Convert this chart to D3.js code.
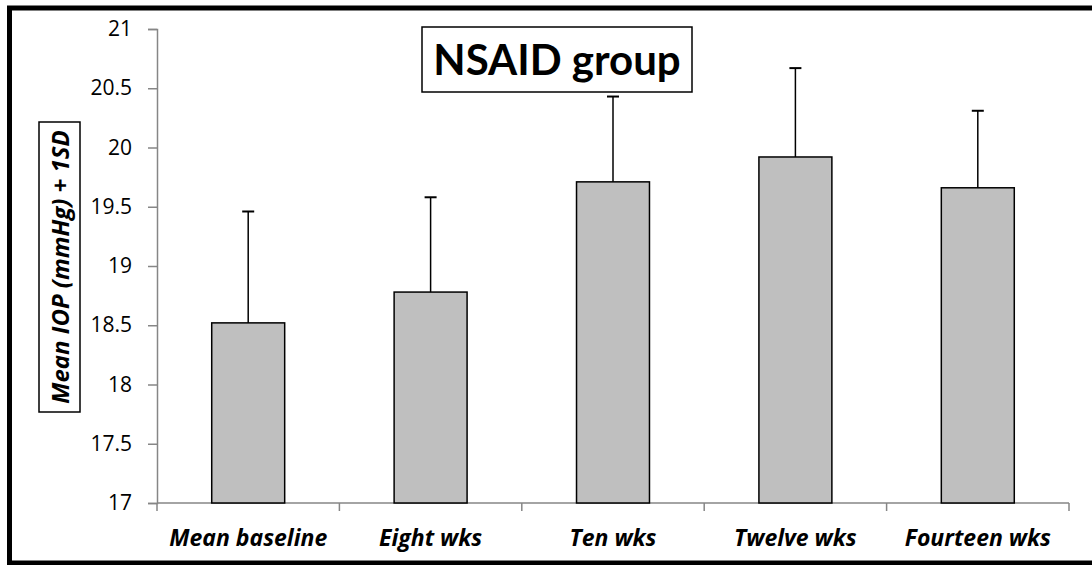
<!DOCTYPE html>
<html>
<head>
<meta charset="utf-8">
<script src="https://d3js.org/d3.v7.min.js"></script>
<style>
  body { margin: 0; background: #fff; }
  svg { display: block; }
</style>
</head>
<body>
<svg id="chart" width="1092" height="565"></svg>
<script>
// values
const categories = ["Mean baseline", "Eight wks", "Ten wks", "Twelve wks", "Fourteen wks"];
const meanIop = [18.52, 18.78, 19.71, 19.92, 19.66];
const sdIop = [0.94, 0.80, 0.72, 0.75, 0.65];
const yTicks = [17, 17.5, 18, 18.5, 19, 19.5, 20, 20.5, 21];

var svg = d3.select("#chart");
var font = "'Open Sans', Lato, sans-serif";

var data = categories.map(function(c, i) {
    return { title: c, value: meanIop[i], sd: sdIop[i] };
});

// thick frame round the whole picture
svg.append("rect")
    .attr("x", 9.5).attr("y", 8)
    .attr("width", 1100).attr("height", 555)
    .attr("fill", "none").attr("stroke", "#000").attr("stroke-width", 5);

var x = d3.scaleBand()
    .domain(categories)
    .range([157, 1069])
    .paddingInner(0.6)
    .paddingOuter(0.3);

var y = d3.scaleLinear()
    .domain([17, 21])
    .range([503, 29]);

// Y axis
var yAxis = svg.append("g")
    .attr("transform", "translate(157,0)")
    .call(d3.axisLeft(y).tickValues(yTicks).tickSize(9).tickPadding(16)
        .tickFormat(function(d) { return String(d); }));
yAxis.select(".domain").attr("stroke", "#868686").attr("stroke-width", 1.5);
yAxis.selectAll(".tick line").attr("stroke", "#868686").attr("stroke-width", 1.5);
yAxis.selectAll(".tick text")
    .attr("fill", "#000")
    .style("font-family", font)
    .style("font-size", "21px");

// X axis, ticks sit between the categories
var xAxis = svg.append("g")
    .attr("transform", "translate(0,503)");
xAxis.append("line")
    .attr("x1", 157).attr("x2", 1069)
    .attr("stroke", "#868686").attr("stroke-width", 1.5);
var step = x.step();
var sepTicks = d3.range(categories.length + 1).map(function(i) { return 157 + i * step; });
xAxis.selectAll("line.sep")
    .data(sepTicks)
    .enter()
    .append("line")
    .attr("class", "sep")
    .attr("x1", d => d).attr("x2", d => d)
    .attr("y1", 0).attr("y2", 8)
    .attr("stroke", "#868686").attr("stroke-width", 1.5);
xAxis.selectAll("text")
    .data(categories)
    .enter()
    .append("text")
    .text(d => d)
    .attr("x", d => x(d) + x.bandwidth() / 2)
    .attr("y", 43)
    .attr("text-anchor", "middle")
    .style("font-family", font)
    .style("font-size", "23px")
    .style("font-weight", "bold")
    .style("font-style", "italic");

// Bars
svg.append("g").selectAll("rect")
    .data(data)
    .enter()
    .append("rect")
    .attr("x", d => x(d.title))
    .attr("y", d => y(d.value))
    .attr("width", x.bandwidth())
    .attr("height", d => y(17) - y(d.value))
    .attr("fill", "#bfbfbf")
    .attr("stroke", "#000")
    .attr("stroke-width", 1.5);

// +1 SD error bars
var err = svg.append("g");
err.selectAll("line.stem")
    .data(data)
    .enter()
    .append("line")
    .attr("class", "stem")
    .attr("x1", d => x(d.title) + x.bandwidth() / 2)
    .attr("x2", d => x(d.title) + x.bandwidth() / 2)
    .attr("y1", d => y(d.value))
    .attr("y2", d => y(d.value + d.sd))
    .attr("stroke", "#000").attr("stroke-width", 1.5);
err.selectAll("line.cap")
    .data(data)
    .enter()
    .append("line")
    .attr("class", "cap")
    .attr("x1", d => x(d.title) + x.bandwidth() / 2 - 6)
    .attr("x2", d => x(d.title) + x.bandwidth() / 2 + 6)
    .attr("y1", d => y(d.value + d.sd))
    .attr("y2", d => y(d.value + d.sd))
    .attr("stroke", "#000").attr("stroke-width", 2);

// Title in its box
svg.append("rect")
    .attr("x", 422).attr("y", 27)
    .attr("width", 270).attr("height", 65)
    .attr("fill", "#fff").attr("stroke", "#000").attr("stroke-width", 1.5);
svg.append("text")
    .text("NSAID group")
    .attr("x", 557).attr("y", 75)
    .attr("text-anchor", "middle")
    .style("font-family", "Lato, 'Open Sans', sans-serif")
    .style("font-size", "42px")
    .style("font-weight", "bold");

// Y axis title in its box
svg.append("rect")
    .attr("x", 39).attr("y", 122)
    .attr("width", 41).attr("height", 290)
    .attr("fill", "#fff").attr("stroke", "#000").attr("stroke-width", 1.5);
svg.append("text")
    .text("Mean IOP (mmHg) + 1SD")
    .attr("transform", "translate(69,267) rotate(-90)")
    .attr("text-anchor", "middle")
    .style("font-family", font)
    .style("font-size", "24px")
    .style("font-weight", "bold")
    .style("font-style", "italic");
</script>
</body>
</html>
